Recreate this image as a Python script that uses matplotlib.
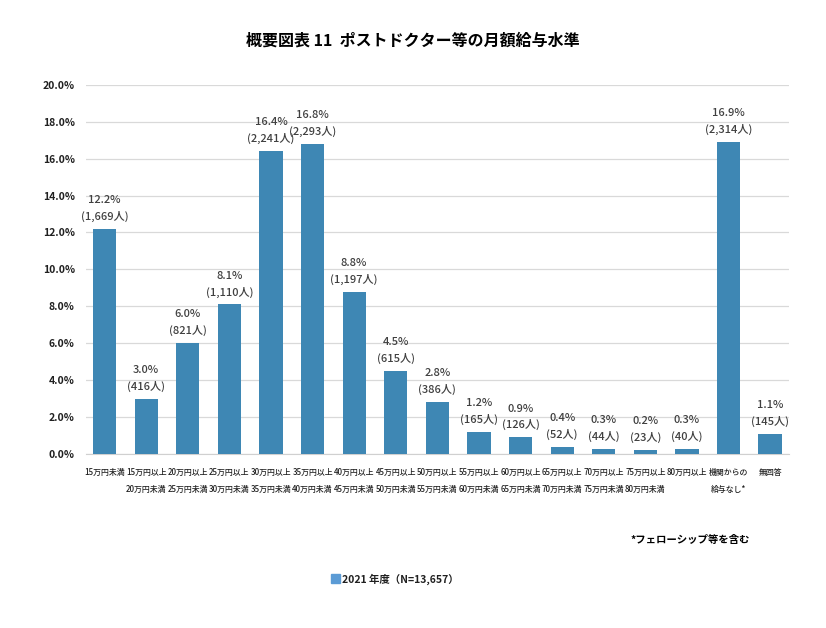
import matplotlib
matplotlib.use("Agg")
import matplotlib.pyplot as plt
import numpy as np

plt.rcParams['font.family'] = ['Noto Sans CJK JP', 'DejaVu Sans']

categories = ["15万円未満", "15万円以上\n20万円未満", "20万円以上\n25万円未満", "25万円以上\n30万円未満",
              "30万円以上\n35万円未満", "35万円以上\n40万円未満", "40万円以上\n45万円未満", "45万円以上\n50万円未満",
              "50万円以上\n55万円未満", "55万円以上\n60万円未満", "60万円以上\n65万円未満", "65万円以上\n70万円未満",
              "70万円以上\n75万円未満", "75万円以上\n80万円未満", "80万円以上", "機関からの\n給与なし*", "無回答"]
percent = [12.2, 3.0, 6.0, 8.1, 16.4, 16.8, 8.8, 4.5, 2.8, 1.2, 0.9, 0.4, 0.3, 0.2, 0.3, 16.9, 1.1]
counts = [1669, 416, 821, 1110, 2241, 2293, 1197, 615, 386, 165, 126, 52, 44, 23, 40, 2314, 145]
yticks = [0, 2, 4, 6, 8, 10, 12, 14, 16, 18, 20]

bar_color = "#3E87B4"
text_color = "#404040"

fig = plt.figure(figsize=(8.26, 6.28), dpi=100)
ax = fig.add_axes([0.104, 0.277, 0.851, 0.588])

x = np.arange(len(categories))
ax.bar(x, percent, width=0.56, color=bar_color, zorder=3)

for xi, p, c in zip(x, percent, counts):
    ax.annotate(f"{p:.1f}%\n({c:,}人)", (xi, p), xytext=(0, 5), textcoords="offset points",
                ha="center", va="bottom", fontsize=8, fontweight="medium", color=text_color,
                linespacing=1.65)

ax.set_ylim(0, 20)
ax.set_xlim(-0.45, len(categories) - 0.55)
ax.set_yticks(yticks)
ax.set_yticklabels([f"{v:.1f}%" for v in yticks], fontsize=7.5, fontweight="bold", color="#202020")
ax.set_xticks(x)
ax.set_xticklabels(categories, fontsize=5.7, fontweight="medium", color="#202020",
                   linespacing=2.2, va="top")
ax.tick_params(axis="x", length=0, pad=10)
ax.tick_params(axis="y", length=0, pad=8)
ax.grid(axis="y", color="#D9D9D9", linewidth=0.9, zorder=0)
for s in ["top", "right", "left"]:
    ax.spines[s].set_visible(False)
ax.spines["bottom"].set_color("#D0D0D0")

fig.text(0.5, 0.935, "概要図表 11  ポストドクター等の月額給与水準", ha="center", va="center",
         fontsize=11.5, fontweight="bold", color="black")
fig.text(0.763, 0.14, "*フェローシップ等を含む", ha="left", va="center",
         fontsize=7.5, fontweight="bold", color="black")

fig.patches.append(plt.Rectangle((0.401, 0.071), 0.011, 0.015, transform=fig.transFigure,
                                 color="#5B9BD5", figure=fig))
fig.text(0.414, 0.077, "2021 年度（N=13,657）", ha="left", va="center",
         fontsize=7.5, fontweight="bold", color="#202020")

fig.savefig("out.png", dpi=100)
